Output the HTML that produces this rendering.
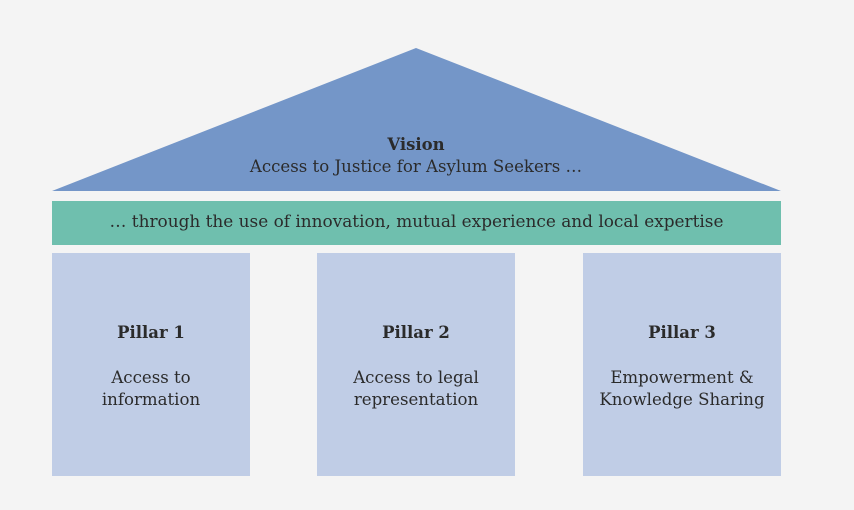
<!DOCTYPE html>
<html><head><meta charset="utf-8"><style>
html,body{margin:0;padding:0;background:#f4f4f4;}
body{width:854px;height:510px;position:relative;overflow:hidden;font-family:"DejaVu Serif","Liberation Serif",serif;color:#2b2b2b;}
.t{position:absolute;text-align:center;white-space:nowrap;}
.p{position:absolute;top:253px;width:198px;height:223px;background:#c0cde6;}
.p .h{position:absolute;top:70px;width:100%;text-align:center;font-weight:bold;font-size:16.5px;}
.p .d{position:absolute;top:114px;width:100%;text-align:center;font-size:16.6px;line-height:22px;}
</style></head><body>
<svg width="854" height="510" style="position:absolute;left:0;top:0">
<polygon points="416,48 781,191 52,191" fill="#7496c8"/>
<rect x="52" y="201" width="729" height="44" fill="#6fbfae"/>
</svg>
<div class="t" style="left:216px;width:400px;top:135px;font-weight:bold;font-size:16.5px;">Vision</div>
<div class="t" style="left:166px;width:500px;top:157px;font-size:16.6px;">Access to Justice for Asylum Seekers …</div>
<div class="t" style="left:52px;width:729px;top:211px;font-size:16.9px;">… through the use of innovation, mutual experience and local expertise</div>
<div class="p" style="left:52px"><div class="h">Pillar 1</div><div class="d">Access to<br>information</div></div>
<div class="p" style="left:317px"><div class="h">Pillar 2</div><div class="d">Access to legal<br>representation</div></div>
<div class="p" style="left:583px"><div class="h">Pillar 3</div><div class="d">Empowerment &amp;<br>Knowledge Sharing</div></div>
</body></html>
